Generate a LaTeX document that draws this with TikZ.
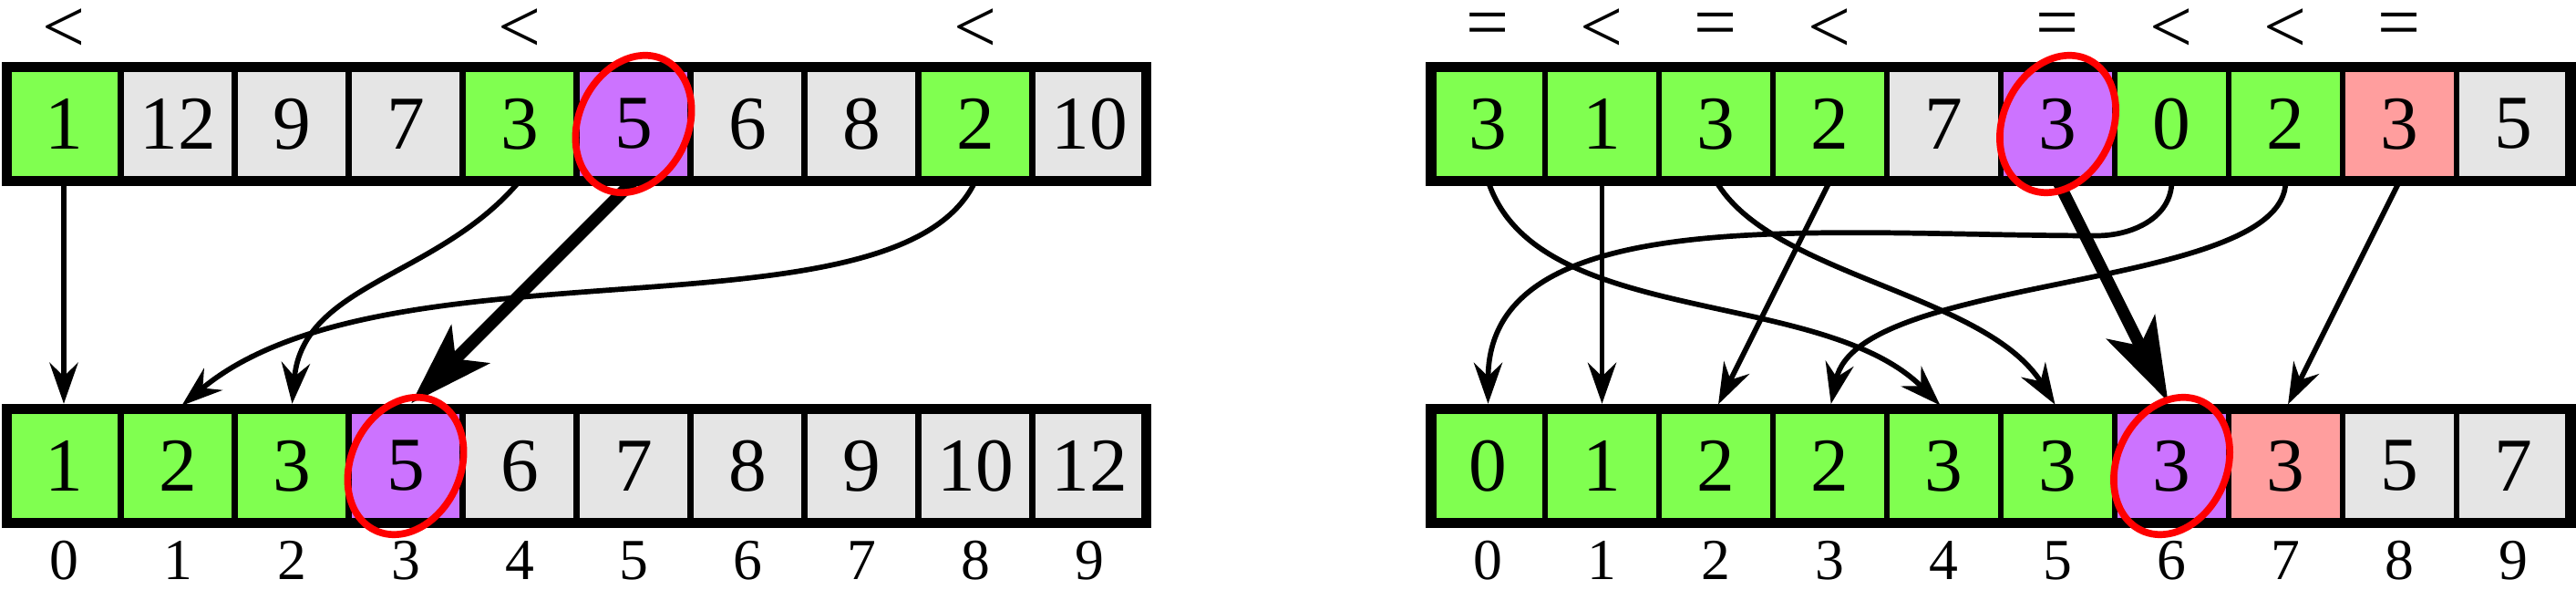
\documentclass[tikz,border=0pt]{standalone}
\usepackage{fontspec}
\setmainfont{Liberation Serif}
\usepackage{xcolor}
\usepackage{tikz}
\usetikzlibrary{arrows.meta}

\definecolor{cg}{RGB}{128,255,80}
\definecolor{cy}{RGB}{229,229,229}
\definecolor{cp}{RGB}{204,115,255}
\definecolor{cr}{RGB}{255,158,158}

\tikzset{
  cell/.style={draw, line width=1.5pt, minimum size=1cm, inner sep=0pt, outer sep=0pt,
    font=\fontsize{19}{22}\selectfont},
  frame/.style={line width=2.6pt},
  idx/.style={font=\fontsize{14.5}{17}\selectfont},
  cmp/.style={font=\fontsize{19}{22}\selectfont},
  ring/.style={red, line width=1.75pt},
  link/.style={->, line width=1.3pt, shorten >=1.3pt},
  biglink/.style={-{Stealth[length=7.3mm, width=4.7mm, inset=1.8mm]}, line width=3pt, shorten >=2pt}
}

\begin{document}
\begin{tikzpicture}[>={Stealth[length=3.6mm, width=2.5mm, inset=1.2mm]}]
    \useasboundingbox (-0.06,-0.588) rectangle (22.548,4.588);

    % 1. Mảng bên trái: hàng trên và hàng đã sắp xếp
    \foreach \v/\c [count=\i from 0] in {1/cg, 12/cy, 9/cy, 7/cy, 3/cg, 5/cp, 6/cy, 8/cy, 2/cg, 10/cy}
        \node[cell, fill=\c] (lt\i) at (\i+0.5,3.5) {\v};
    \foreach \v/\c [count=\i from 0] in {1/cg, 2/cg, 3/cg, 5/cp, 6/cy, 7/cy, 8/cy, 9/cy, 10/cy, 12/cy}
        \node[cell, fill=\c] (lb\i) at (\i+0.5,0.5) {\v};
    \draw[frame] (lt0.south west) rectangle (lt9.north east);
    \draw[frame] (lb0.south west) rectangle (lb9.north east);
    \foreach \i in {0,...,9}
        \node[idx] (li\i) at (\i+0.5,-0.33) {\i};
    \node[cmp] (lc0) at (0.5,4.32) {<};
    \node[cmp] (lc4) at (4.5,4.32) {<};
    \node[cmp] (lc8) at (8.5,4.32) {<};

    % 2. Mảng bên phải
    \foreach \v/\c [count=\i from 0] in {3/cg, 1/cg, 3/cg, 2/cg, 7/cy, 3/cp, 0/cg, 2/cg, 3/cr, 5/cy}
        \node[cell, fill=\c] (rt\i) at (\i+13,3.5) {\v};
    \foreach \v/\c [count=\i from 0] in {0/cg, 1/cg, 2/cg, 2/cg, 3/cg, 3/cg, 3/cp, 3/cr, 5/cy, 7/cy}
        \node[cell, fill=\c] (rb\i) at (\i+13,0.5) {\v};
    \draw[frame] (rt0.south west) rectangle (rt9.north east);
    \draw[frame] (rb0.south west) rectangle (rb9.north east);
    \foreach \i in {0,...,9}
        \node[idx] (ri\i) at (\i+13,-0.33) {\i};
    \node[cmp] (rc0) at (13,4.32) {=};
    \node[cmp] (rc1) at (14,4.32) {<};
    \node[cmp] (rc2) at (15,4.32) {=};
    \node[cmp] (rc3) at (16,4.32) {<};
    \node[cmp] (rc5) at (18,4.32) {=};
    \node[cmp] (rc6) at (19,4.32) {<};
    \node[cmp] (rc7) at (20,4.32) {<};
    \node[cmp] (rc8) at (21,4.32) {=};

    % 3. Các mũi tên bên trái
    \draw[link] (lt0.south) -- (lb0.north);
    \draw[link] (lt4.south) to[out=-130, in=85] (lb2.north);
    \draw[link] (lt8.south) to[out=-115, in=40, out distance=1.6cm, in distance=2.4cm] (lb1.north);
    \draw[biglink] (lt5.south) -- (lb3.north);

    % 4. Các mũi tên bên phải
    \draw[link] (rt0.south) to[out=-72, in=135, out distance=1.36cm, in distance=1.52cm] (rb4.north);
    \draw[link] (rt1.south) -- (rb1.north);
    \draw[link] (rt2.south) to[out=-60, in=122, out distance=0.96cm, in distance=1.2cm] (rb5.north);
    \draw[link] (rt3.south) -- (rb2.north);
    \draw[link] (rt6.south) to[out=-90, in=0] ++(-0.66,-0.48)
        to[out=180, in=90, out distance=2.4cm, in distance=1.84cm] (rb0.north);
    \draw[link] (rt7.south) to[out=-90, in=78, out distance=0.97cm, in distance=1.22cm] (rb3.north);
    \draw[link] (rt8.south) -- (rb7.north);
    \draw[biglink] (rt5.south) -- (rb6.north);

    % 5. Khoanh đỏ phần tử chốt
    \foreach \n in {lt5, lb3, rt5, rb6}
        \draw[ring, rotate around={-25:(\n.center)}] (\n.center) circle [x radius=0.48, y radius=0.625];
\end{tikzpicture}
\end{document}
